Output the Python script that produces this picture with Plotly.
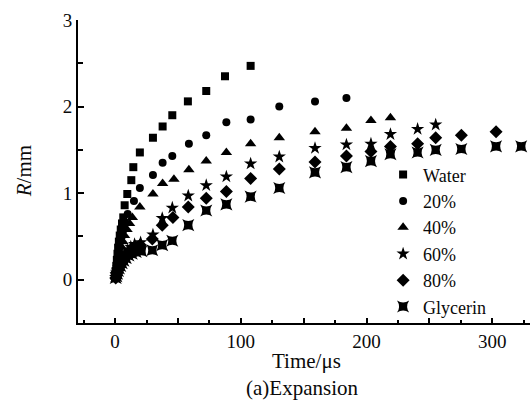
import plotly.graph_objects as go

# Bubble radius R (mm) versus time (µs) for water / glycerin mixtures
t_water = [0.3, 0.6, 1.0, 1.4, 1.9, 2.4, 3.0, 3.7, 4.5, 5.5, 6.5, 7.6, 9.7, 12.9, 14.5,
           19.7, 30.1, 37.8, 45.5, 57.9, 72.5, 87.4, 107.8]
r_water = [0.03, 0.09, 0.16, 0.23, 0.30, 0.37, 0.44, 0.51, 0.58, 0.65, 0.72, 0.86, 0.99, 1.15, 1.30,
           1.47, 1.64, 1.77, 1.90, 2.06, 2.18, 2.35, 2.47]

t_20 = [0.4, 0.8, 1.2, 1.7, 2.2, 2.8, 3.5, 4.3, 5.3, 6.5, 8.0, 10.0, 15.0, 19.7, 30.1,
        37.8, 45.5, 58.7, 72.5, 88.5, 107.8, 130.6, 159, 184]
r_20 = [0.03, 0.08, 0.13, 0.19, 0.25, 0.31, 0.37, 0.44, 0.50, 0.57, 0.66, 0.76, 0.91, 1.06, 1.21,
        1.35, 1.43, 1.57, 1.67, 1.82, 1.85, 2.00, 2.06, 2.10]

t_40 = [0.5, 1.0, 1.5, 2.0, 2.6, 3.3, 4.1, 5.0, 6.2, 7.5, 9.5, 11.5, 13.7, 19.7, 30.1,
        37.8, 46.8, 58.7, 72.5, 88.5, 107.8, 130.6, 159, 184, 203.5, 219]
r_40 = [0.03, 0.07, 0.11, 0.16, 0.21, 0.26, 0.32, 0.38, 0.44, 0.51, 0.58, 0.65, 0.72, 0.84, 0.99,
        1.11, 1.16, 1.27, 1.37, 1.47, 1.57, 1.64, 1.71, 1.75, 1.84, 1.87]

t_60 = [0.5, 1.0, 1.6, 2.2, 3.0, 3.9, 5.0, 6.3, 8.0, 10.0, 12.5, 15.5, 20.3, 30.1, 37.5,
        45.5, 58.2, 72.5, 88.5, 107.8, 130.6, 159, 184, 203.5, 219, 240.6, 255]
r_60 = [0.03, 0.06, 0.09, 0.12, 0.15, 0.19, 0.22, 0.26, 0.30, 0.34, 0.38, 0.41, 0.43, 0.52, 0.71,
        0.83, 0.97, 1.09, 1.19, 1.34, 1.42, 1.52, 1.56, 1.57, 1.68, 1.74, 1.79]

t_80 = [0.5, 1.0, 1.6, 2.3, 3.1, 4.0, 5.2, 6.6, 8.3, 10.5, 13.0, 16.0, 20.0, 29.6, 37.5,
        46.0, 58.2, 72.5, 88.5, 107.8, 130.6, 159, 184, 203.5, 219, 240.6, 255, 275.4, 303]
r_80 = [0.02, 0.05, 0.08, 0.11, 0.14, 0.17, 0.20, 0.24, 0.27, 0.31, 0.34, 0.37, 0.40, 0.47, 0.63,
        0.72, 0.84, 0.94, 1.02, 1.17, 1.28, 1.36, 1.43, 1.48, 1.54, 1.57, 1.64, 1.67, 1.71]

t_gly = [0.5, 1.0, 1.6, 2.3, 3.1, 4.1, 5.3, 6.7, 8.5, 10.7, 13.3, 16.5, 21.0, 29.6, 37.5,
         45.5, 58.2, 72.5, 88.5, 107.8, 130.6, 159, 184, 203.5, 219, 240.6, 255, 275.4, 303, 323]
r_gly = [0.02, 0.04, 0.07, 0.10, 0.13, 0.16, 0.19, 0.22, 0.25, 0.28, 0.30, 0.32, 0.33, 0.34, 0.40,
         0.45, 0.63, 0.80, 0.87, 0.96, 1.06, 1.24, 1.30, 1.37, 1.45, 1.47, 1.50, 1.51, 1.54, 1.54]

series_names = ["Water", "20%", "40%", "60%", "80%", "Glycerin"]
x_tick_vals = [0, 50, 100, 150, 200, 250, 300]
x_tick_text = ["0", "", "100", "", "200", "", "300"]
y_tick_vals = [0, 1, 2, 3]
y_tick_text = ["0", "1", "2", "3"]

SERIF = "Liberation Serif"
INK = "#0a0a0a"

series = [
    (t_water, r_water, "square", 8),
    (t_20, r_20, "circle", 8),
    (t_40, r_40, "triangle-up", 10),
    (t_60, r_60, "star", 10),
    (t_80, r_80, "diamond", 10),
    (t_gly, r_gly, "star-square", 11),
]

fig = go.Figure()
for name, (tx, ry, sym, sz) in zip(series_names, series):
    fig.add_trace(go.Scatter(
        x=tx, y=ry, mode="markers", name=name,
        marker=dict(symbol=sym, size=sz, color="black", line=dict(width=0)),
        cliponaxis=False,
    ))

fig.update_xaxes(
    range=[-29.5, 330], tickvals=x_tick_vals, ticktext=x_tick_text, ticklen=5,
    showgrid=False, zeroline=False, showline=True, linecolor="black", linewidth=2,
    ticks="inside", tickcolor="black", tickwidth=2,
    tickfont=dict(family=SERIF, size=19, color=INK),
    minor=dict(dtick=25, tick0=0, ticks="inside", ticklen=3, tickwidth=2, tickcolor="black"),
)
fig.update_yaxes(
    range=[-0.5, 3], tickvals=y_tick_vals, ticktext=y_tick_text, ticklen=6,
    showgrid=False, zeroline=False, showline=True, linecolor="black", linewidth=2,
    ticks="inside", tickcolor="black", tickwidth=2,
    tickfont=dict(family=SERIF, size=19, color=INK),
    minor=dict(dtick=0.5, tick0=0, ticks="inside", ticklen=5, tickwidth=2, tickcolor="black"),
)

fig.update_layout(
    width=530, height=412,
    margin=dict(l=78, r=0, t=20, b=89),
    paper_bgcolor="white", plot_bgcolor="white",
    legend=dict(
        x=0.675, y=0.55, xanchor="left", yanchor="top",
        bgcolor="rgba(0,0,0,0)", font=dict(family=SERIF, size=18, color=INK),
        itemwidth=30,
    ),
    annotations=[
        dict(text="<i>R</i>/mm", xref="paper", yref="paper", x=-0.12, y=0.5,
             xanchor="center", yanchor="middle", textangle=-90, showarrow=False,
             font=dict(family=SERIF, size=21, color=INK)),
        dict(text="Time/μs", xref="paper", yref="paper", x=0.505, y=-0.125,
             xanchor="center", yanchor="middle", showarrow=False,
             font=dict(family=SERIF, size=21, color=INK)),
        dict(text="(a)Expansion", xref="paper", yref="paper", x=0.495, y=-0.215,
             xanchor="center", yanchor="middle", showarrow=False,
             font=dict(family=SERIF, size=21, color=INK)),
    ],
)

fig.write_html("out.html")
